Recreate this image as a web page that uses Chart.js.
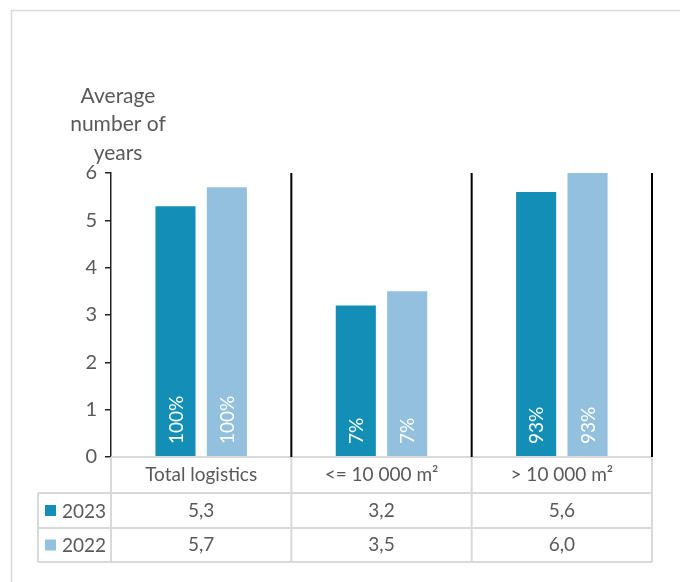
<!DOCTYPE html>
<html>
<head>
<meta charset="utf-8">
<script src="https://cdn.jsdelivr.net/npm/chart.js@4"></script>
<style>
  html, body { margin: 0; padding: 0; background: #fff; }
  #wrap { width: 680px; height: 582px; }
</style>
</head>
<body>
<div id="wrap"><canvas id="myChart" width="680" height="582"></canvas></div>
<script>
// chart data
const categories = ['Total logistics', '<= 10 000 m\u00B2', '> 10 000 m\u00B2'];
const seriesNames = ['2023', '2022'];
const values2023 = [5.3, 3.2, 5.6];
const values2022 = [5.7, 3.5, 6.0];
const shares2023 = ['100%', '7%', '93%'];
const shares2022 = ['100%', '7%', '93%'];
const axisTitle = ['Average', 'number of', 'years'];

const colors = ['#138fb6', '#92c0dd'];
const textColor = '#595959';
const gridGray = '#d9d9d9';
const fontFamily = 'Lato, "Open Sans", sans-serif';

const fmt = v => v.toFixed(1).replace('.', ',');

// draws frame, axis title, separators, bar labels and the data table
const extrasPlugin = {
    id: 'extras',
    beforeDraw(chart) {
        const ctx = chart.ctx;
        ctx.save();
        ctx.strokeStyle = gridGray;
        ctx.lineWidth = 1.5;
        ctx.strokeRect(11.5, 10.5, 720, 620);
        ctx.restore();
    },
    afterDatasetsDraw(chart) {
        const ctx = chart.ctx;
        const area = chart.chartArea;
        const x = chart.scales.x;
        const n = categories.length;
        const colW = (area.right - area.left) / n;

        ctx.save();
        // axis title
        ctx.fillStyle = textColor;
        ctx.font = '21px ' + fontFamily;
        ctx.textAlign = 'center';
        ctx.textBaseline = 'middle';
        axisTitle.forEach((t, i) => ctx.fillText(t, 118, 96 + i * 28.5));

        // percentage labels inside bars
        ctx.fillStyle = '#ffffff';
        ctx.font = '19px ' + fontFamily;
        ctx.textAlign = 'left';
        const shares = [shares2023, shares2022];
        shares.forEach((arr, d) => {
            const meta = chart.getDatasetMeta(d);
            meta.data.forEach((bar, i) => {
                ctx.save();
                ctx.translate(bar.x + 1, area.bottom - 13);
                ctx.rotate(-Math.PI / 2);
                ctx.fillText(arr[i], 0, 0);
                ctx.restore();
            });
        });

        // table grid
        const tTop = area.bottom;
        const rowH = [36, 35, 34];
        const y1 = tTop + rowH[0];
        const y2 = y1 + rowH[1];
        const y3 = y2 + rowH[2];
        const leftX = 38;
        ctx.strokeStyle = gridGray;
        ctx.lineWidth = 2;
        ctx.beginPath();
        ctx.moveTo(area.left, tTop); ctx.lineTo(area.right, tTop);
        [y1, y2, y3].forEach(yy => { ctx.moveTo(leftX, yy); ctx.lineTo(area.right, yy); });
        ctx.moveTo(leftX, y1); ctx.lineTo(leftX, y3);
        for (let i = 0; i <= n; i++) {
            const xx = area.left + i * colW;
            ctx.moveTo(xx, tTop); ctx.lineTo(xx, y3);
        }
        ctx.stroke();

        // black separators between categories
        ctx.strokeStyle = '#000000';
        ctx.lineWidth = 2;
        ctx.beginPath();
        for (let i = 1; i <= n; i++) {
            const xx = area.left + i * colW;
            ctx.moveTo(xx, area.top); ctx.lineTo(xx, area.bottom);
        }
        ctx.stroke();

        // table text
        ctx.fillStyle = textColor;
        ctx.font = '19px ' + fontFamily;
        ctx.textAlign = 'center';
        ctx.textBaseline = 'middle';
        const rows = [values2023, values2022];
        categories.forEach((c, i) => {
            const cx = x.getPixelForValue(i);
            ctx.fillText(c, cx, (tTop + y1) / 2);
            rows.forEach((vals, r) => {
                const yTop = r === 0 ? y1 : y2;
                const yBot = r === 0 ? y2 : y3;
                ctx.fillText(fmt(vals[i]), cx, (yTop + yBot) / 2);
            });
        });
        // legend keys
        ctx.textAlign = 'left';
        seriesNames.forEach((s, r) => {
            const yTop = r === 0 ? y1 : y2;
            const yBot = r === 0 ? y2 : y3;
            const cy = (yTop + yBot) / 2;
            ctx.fillStyle = colors[r];
            ctx.fillRect(45, cy - 5.5, 11, 11);
            ctx.fillStyle = textColor;
            ctx.fillText(s, 62, cy + 1);
        });
        ctx.restore();
    }
};

const ctx = document.getElementById('myChart').getContext('2d');
new Chart(ctx, {
    type: 'bar',
    data: {
        labels: categories,
        datasets: [{
            label: seriesNames[0],
            data: values2023,
            backgroundColor: colors[0],
            categoryPercentage: 0.57,
            barPercentage: 0.78
        }, {
            label: seriesNames[1],
            data: values2022,
            backgroundColor: colors[1],
            categoryPercentage: 0.57,
            barPercentage: 0.78
        }]
    },
    options: {
        responsive: false,
        animation: false,
        layout: {
            padding: { top: 173, right: 28, bottom: 125, left: 0 }
        },
        plugins: {
            legend: { display: false },
            tooltip: { enabled: false }
        },
        scales: {
            x: {
                display: false
            },
            y: {
                min: 0,
                max: 6,
                ticks: {
                    stepSize: 1,
                    color: textColor,
                    padding: 8,
                    font: { size: 20, family: fontFamily }
                },
                grid: {
                    drawOnChartArea: false,
                    drawTicks: true,
                    tickLength: 6,
                    color: '#222222',
                    lineWidth: 1.5
                },
                border: { display: true, color: '#222222', width: 1.5 },
                afterFit(scale) { scale.width = 111; }
            }
        }
    },
    plugins: [extrasPlugin]
});
</script>
</body>
</html>
